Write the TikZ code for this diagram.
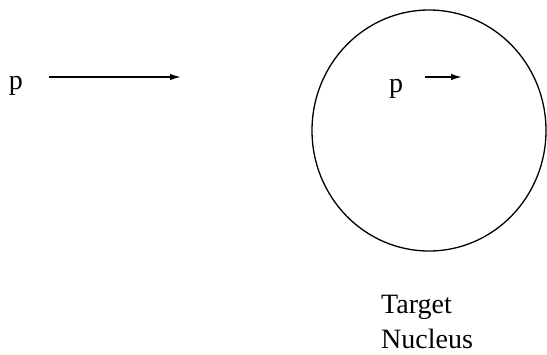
\documentclass[tikz,border=0pt]{standalone}
\usepackage{fontspec}
\setmainfont{Liberation Serif}
\usetikzlibrary{arrows.meta,positioning}

\begin{document}
\begin{tikzpicture}[
      x=1pt, y=-1pt,
      every node/.style={font=\fontsize{28}{35}\selectfont, inner sep=0pt},
      label/.style={anchor=base},
      beam/.style={line width=1.5pt, -{Latex[length=11pt,width=6.5pt]}},
      >={Latex}
    ]
    \useasboundingbox (0,0) rectangle (547,354);

    % NODES
    \node[label] (pleft) at (16,89) {p};
    \node[label] (pin) at (396,92) {p};
    \node[anchor=north west, align=left] (name) at (381,295) {Target\\Nucleus};

    % NUCLEUS
    \draw[line width=1.3pt] (429,130.5) ellipse [x radius=117, y radius=120.5];

    % ARROWS
    \coordinate (tailleft) at (49,77);
    \coordinate (tipleft) at (181,77);
    \coordinate (tailin) at (425,77);
    \coordinate (tipin) at (462,77);
    \draw[beam] (tailleft) -- (tipleft);
    \draw[beam] (tailin) -- (tipin);
  \end{tikzpicture}
\end{document}
